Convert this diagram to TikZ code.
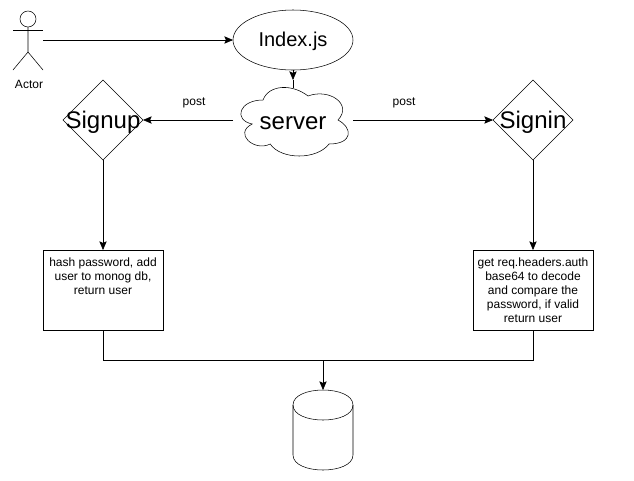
\documentclass[tikz,border=0pt]{standalone}
\usepackage{fontspec}
\setmainfont{Liberation Sans}
\usetikzlibrary{arrows.meta,positioning,shapes.geometric}
\tikzset{
    x=0.75pt,y=-0.75pt,line width=0.75pt,
    >={Stealth[length=6.5pt,width=5.5pt,inset=1.2pt]},
    every node/.style={outer sep=0pt,inner sep=0pt,font=\fontsize{9}{10.6}\selectfont},
    bigtext/.style={font=\fontsize{18}{21}\selectfont},
    decision/.style={diamond,draw,bigtext,aspect=1,minimum width=60pt,minimum height=60pt,text height=12pt,text depth=0pt},
    process/.style={rectangle,draw,align=center,minimum width=90pt,minimum height=60pt,execute at begin node=\rule{0pt}{9.5pt}},
    cloudbox/.style={rectangle,bigtext,minimum width=90pt,minimum height=60pt,text height=14pt,text depth=0pt},
    storebox/.style={rectangle,minimum width=45pt,minimum height=60pt}
}
\begin{document}
\begin{tikzpicture}
    \useasboundingbox (0,0) rectangle (634,480);
    % Actor
    \node[circle,draw,minimum size=12pt] (head) at (28,19) {};
    \node (actor) at (29,84) {Actor};
    \coordinate (hand) at (43,40);
    \draw (head.south) -- (28,52) -- (13,70);
    \draw (28,52) -- (43,70);
    \draw (13,30) -- (43,30);
    % Top of the flow
    \node[ellipse,draw,font=\fontsize{15}{18}\selectfont,minimum width=90pt,minimum height=45pt,text height=10pt,text depth=0pt] (index) at (293,40) {Index.js};
    \node[cloudbox] (server) [below=7.5pt of index] {server};
    \draw[shift={(server.north west)},x=90pt,y=-60pt] (0.25,0.25)
        .. controls (0.05,0.25) and (0,0.5) .. (0.16,0.55)
        .. controls (0,0.67) and (0.18,0.9) .. (0.31,0.8)
        .. controls (0.4,1) and (0.7,1) .. (0.8,0.8)
        .. controls (1,0.8) and (1,0.6) .. (0.875,0.5)
        .. controls (1,0.3) and (0.8,0.1) .. (0.625,0.2)
        .. controls (0.5,0.05) and (0.3,0.05) .. (0.25,0.25) -- cycle;
    % Branches
    \node[decision] (signup) [left=67.5pt of server] {\makebox[0pt]{Signup}};
    \node[decision] (signin) [right=105pt of server] {\makebox[0pt]{Signin}};
    \node (postup) at (194,103) {post};
    \node (postin) at (404,103) {post};
    \node[process] (hash) [below=67.5pt of signup] {hash password, add\\user to monog db,\\return user\\~\\~};
    \node[process] (auth) [below=67.5pt of signin] {get req.headers.auth\\base64 to decode\\and compare the\\password, if valid\\return user};
    % Database
    \node[storebox] (db) at (323,430) {};
    \draw[shift={(db.north west)}] (0,15) .. controls (0,-5) and (60,-5) .. (60,15) -- (60,65)
        .. controls (60,85) and (0,85) .. (0,65) -- cycle;
    \draw[shift={(db.north west)}] (0,15) .. controls (0,35) and (60,35) .. (60,15);
    \coordinate (join) at (323,360);
    % Connectors
    \draw[->] (hand) -- (index);
    \draw[->] (index) -- (server);
    \draw (server.north) -- ++(0,8);
    \draw[->] (server) -- (signup);
    \draw[->] (server) -- (signin);
    \draw[->] (signup) -- (hash);
    \draw[->] (signin) -- (auth);
    \draw (hash) |- (join);
    \draw (auth) |- (join);
    \draw[->] (join) -- (db);
\end{tikzpicture}
\end{document}
